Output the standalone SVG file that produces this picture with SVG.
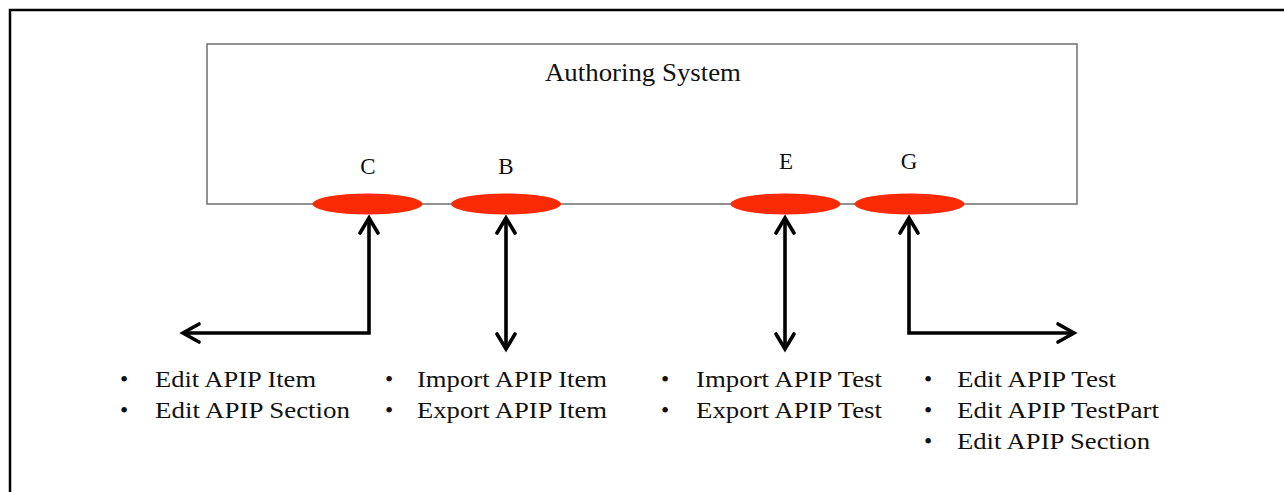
<svg xmlns="http://www.w3.org/2000/svg" width="1284" height="492" viewBox="0 0 1284 492">
<style>
.frame{fill:none;stroke:#000;stroke-width:2.5}
.box{fill:#fff;stroke:#777;stroke-width:1.6}
.port{fill:#fa2a05}
.lbl{font-family:"Liberation Serif","Times New Roman",serif;fill:#111}
.t{font-size:23.5px}
.p{font-size:23px}
.big{font-size:25px}
.conn{fill:none;stroke:#000;stroke-width:3.6;stroke-linejoin:miter;stroke-linecap:butt}
.head{fill:none;stroke:#000;stroke-width:3.6;stroke-linejoin:miter;stroke-linecap:round}
</style>
<rect width="1284" height="492" fill="#fff"/>
<path class="frame" d="M10,492 V10 H1284"/>

<g id="authoring-system">
<rect class="box" x="207" y="44" width="870" height="160"/>
<text class="lbl big" x="545" y="81" textLength="196" lengthAdjust="spacingAndGlyphs">Authoring System</text>
</g>

<g id="port-C">
<ellipse class="port" cx="367.5" cy="204" rx="55" ry="10.5"/>
<text class="lbl p" x="368" y="174" text-anchor="middle">C</text>
</g>
<g id="port-B">
<ellipse class="port" cx="506" cy="204" rx="55" ry="10.5"/>
<text class="lbl p" x="506" y="174" text-anchor="middle">B</text>
</g>
<g id="port-E">
<ellipse class="port" cx="785.5" cy="204" rx="55" ry="10.5"/>
<text class="lbl p" x="786" y="169" text-anchor="middle">E</text>
</g>
<g id="port-G">
<ellipse class="port" cx="909.5" cy="204" rx="55" ry="10.5"/>
<text class="lbl p" x="909" y="169" text-anchor="middle">G</text>
</g>

<g id="connectors">
<path class="conn" d="M369,220 V333 H185"/>
<path class="head" d="M360,233 L369,218 L378,233"/>
<path class="head" d="M199,324 L183,333 L199,342"/>

<path class="conn" d="M506,220 V346"/>
<path class="head" d="M497,233 L506,218 L515,233"/>
<path class="head" d="M497,334 L506,349 L515,334"/>

<path class="conn" d="M785,220 V346"/>
<path class="head" d="M776,233 L785,218 L794,233"/>
<path class="head" d="M776,334 L785,349 L794,334"/>

<path class="conn" d="M909,220 V333 H1072"/>
<path class="head" d="M900,233 L909,218 L918,233"/>
<path class="head" d="M1058,324 L1074,333 L1058,342"/>
</g>

<g id="list-C">
<text class="lbl t" x="120" y="387">•</text>
<text class="lbl t" x="155" y="387" textLength="161" lengthAdjust="spacingAndGlyphs">Edit APIP Item</text>
<text class="lbl t" x="120" y="418">•</text>
<text class="lbl t" x="155" y="418" textLength="195" lengthAdjust="spacingAndGlyphs">Edit APIP Section</text>
</g>
<g id="list-B">
<text class="lbl t" x="385" y="387">•</text>
<text class="lbl t" x="417" y="387" textLength="190" lengthAdjust="spacingAndGlyphs">Import APIP Item</text>
<text class="lbl t" x="385" y="418">•</text>
<text class="lbl t" x="417" y="418" textLength="190" lengthAdjust="spacingAndGlyphs">Export APIP Item</text>
</g>
<g id="list-E">
<text class="lbl t" x="661" y="387">•</text>
<text class="lbl t" x="696" y="387" textLength="186" lengthAdjust="spacingAndGlyphs">Import APIP Test</text>
<text class="lbl t" x="661" y="418">•</text>
<text class="lbl t" x="696" y="418" textLength="186" lengthAdjust="spacingAndGlyphs">Export APIP Test</text>
</g>
<g id="list-G">
<text class="lbl t" x="924" y="387">•</text>
<text class="lbl t" x="957" y="387" textLength="159" lengthAdjust="spacingAndGlyphs">Edit APIP Test</text>
<text class="lbl t" x="924" y="418">•</text>
<text class="lbl t" x="957" y="418" textLength="202" lengthAdjust="spacingAndGlyphs">Edit APIP TestPart</text>
<text class="lbl t" x="924" y="449">•</text>
<text class="lbl t" x="957" y="449" textLength="193" lengthAdjust="spacingAndGlyphs">Edit APIP Section</text>
</g>
</svg>
